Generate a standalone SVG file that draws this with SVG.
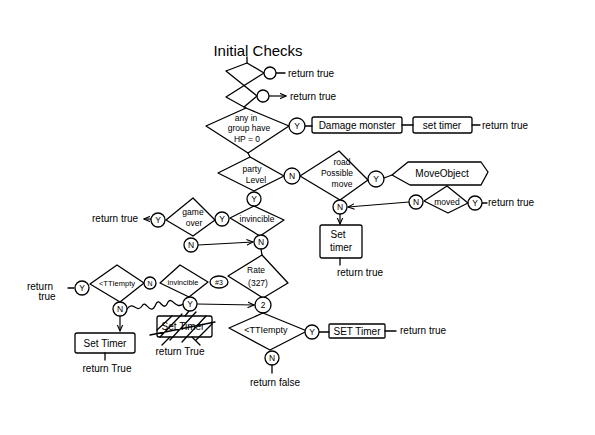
<svg xmlns="http://www.w3.org/2000/svg" width="595" height="435" viewBox="0 0 595 435">
<defs>
<marker id="ah" viewBox="0 0 10 10" refX="9" refY="5" markerWidth="6" markerHeight="6" orient="auto"><path d="M0,1 L9,5 L0,9" fill="none" stroke="#000" stroke-width="1.5"/></marker>
<style>
.s{fill:none;stroke:#000;stroke-width:1.3;stroke-linejoin:round;stroke-linecap:round}
.t{font-family:"Liberation Sans",Arial,sans-serif;font-size:10px;fill:#000}
.m{text-anchor:middle}
.sm{font-size:8.5px}
.c{fill:#fff;stroke:#000;stroke-width:1.3}
.a{fill:none;stroke:#000;stroke-width:1.2;marker-end:url(#ah)}
</style>
</defs>
<rect width="595" height="435" fill="#fff"/>
<text class="t m" x="258" y="56" style="font-size:15px">Initial Checks</text>

<g id="connectors">
<path class="s" d="M247,57 L247,63"/>
<path class="s" d="M276,73 L285,73"/>
<path class="a" d="M269,96 L286,96"/>
<path class="s" d="M244,107 L246,108"/>
<path class="s" d="M305,126 L312,126"/>
<path class="s" d="M402,125 L413,125"/>
<path class="s" d="M472,125 L480,125"/>
<path class="s" d="M248,153 L250,157"/>
<path class="s" d="M384,178 L392,175"/>
<path class="s" d="M482,203 L487,203"/>
<path class="a" d="M409,202 L348,207"/>
<path class="a" d="M340,214 L340,224"/>
<path class="s" d="M340,258 L340,265"/>
<path class="a" d="M151,219 L144,219"/>
<path class="a" d="M198,245 L253,242"/>
<path class="s" d="M261,249 L262,255"/>
<path class="s" d="M68,288 L74,288"/>
<path class="a" d="M120,316 L120,331"/>
<path class="s" d="M105,353 L105,360"/>
<path class="s" d="M127,309 C133,300 137,314 142,306 C146,298 150,318 156,304 C160,296 163,314 168,302 C172,296 176,310 183,304"/>
<path class="a" d="M197,304 L254,305"/>
<path class="s" d="M189,311 L185,316"/>
<path class="s" d="M170,337 L162,345 M192,337 L200,345"/>
<path class="s" d="M319,332 L329,332"/>
<path class="s" d="M385,331 L396,331"/>
<path class="s" d="M272,365 L272,373"/>
</g>

<g id="initial-checks">
<path class="s" d="M226,71 L247,63 L264,73 L226,97 L244,107 L257,96 L226,71"/>
<circle class="c" cx="270" cy="73" r="6"/>
<circle class="c" cx="263" cy="96" r="6"/>
<text class="t" x="288" y="77">return true</text>
<text class="t" x="290" y="100">return true</text>
</g>

<g id="hp-check">
<path class="s" d="M206,126 L246,108 L289,126 L248,153 Z"/>
<text class="t m sm" x="246" y="121">any in</text>
<text class="t m sm" x="249" y="131">group have</text>
<text class="t m sm" x="247" y="142">HP = 0</text>
<circle class="c" cx="297" cy="126" r="8"/>
<text class="t m sm" x="297" y="129">Y</text>
</g>
<g id="damage-monster">
<rect class="s" x="312" y="117" width="90" height="16" rx="2"/>
<text class="t m" x="357" y="129">Damage monster</text>
</g>
<g id="set-timer-1">
<rect class="s" x="413" y="117" width="59" height="16" rx="2"/>
<text class="t m" x="442" y="129">set timer</text>
<text class="t" x="482" y="129">return true</text>
</g>

<g id="party-level">
<path class="s" d="M218,173 L250,157 L284,176 L254,191 Z"/>
<text class="t m sm" x="252" y="172">party</text>
<text class="t m sm" x="256" y="183">Level</text>
<circle class="c" cx="292" cy="176" r="8"/>
<text class="t m sm" x="292" y="179">N</text>
</g>

<g id="road-possible-move">
<path class="s" d="M300,176 L339,151 L368,180 L340,200 Z"/>
<text class="t m sm" x="342" y="165">road</text>
<text class="t m sm" x="337" y="176">Possible</text>
<text class="t m sm" x="342" y="187">move</text>
<circle class="c" cx="376" cy="179" r="8"/>
<text class="t m sm" x="376" y="182">Y</text>
</g>

<g id="move-object">
<path class="s" d="M392,175 L408,162 L481,162 L488,172 L481,185 L410,185 Z"/>
<text class="t m" x="442" y="177">MoveObject</text>
</g>

<g id="moved">
<path class="s" d="M424,201 L447,186 L468,203 L448,213 Z"/>
<text class="t m sm" x="447" y="205">moved</text>
<circle class="c" cx="416" cy="202" r="7"/>
<text class="t m sm" x="416" y="205">N</text>
<circle class="c" cx="475" cy="203" r="7"/>
<text class="t m sm" x="475" y="206">Y</text>
<text class="t" x="488" y="206">return true</text>
</g>

<g id="set-timer-2">
<circle class="c" cx="340" cy="207" r="7"/>
<text class="t m sm" x="340" y="210">N</text>
<rect class="s" x="320" y="225" width="42" height="33" rx="2"/>
<text class="t m" x="338" y="238">Set</text>
<text class="t m" x="341" y="251">timer</text>
<text class="t m" x="360" y="276">return true</text>
</g>

<g id="invincible-1">
<path class="s" d="M230,218 L254,206 L284,220 L260,236 Z"/>
<text class="t m sm" x="257" y="222">invincible</text>
<circle class="c" cx="254" cy="199" r="7"/>
<text class="t m sm" x="254" y="202">Y</text>
<circle class="c" cx="222" cy="219" r="7"/>
<text class="t m sm" x="222" y="222">Y</text>
</g>

<g id="game-over">
<path class="s" d="M166,220 L193,198 L215,220 L193,236 Z"/>
<text class="t m sm" x="193" y="215">game</text>
<text class="t m sm" x="194" y="226">over</text>
<circle class="c" cx="158" cy="220" r="7"/>
<text class="t m sm" x="158" y="223">Y</text>
<text class="t" x="92" y="222">return true</text>
<circle class="c" cx="191" cy="245" r="7"/>
<text class="t m sm" x="191" y="248">N</text>
</g>

<g id="rate">
<circle class="c" cx="261" cy="242" r="7"/>
<text class="t m sm" x="261" y="245">N</text>
<path class="s" d="M228,276 L262,255 L288,283 L263,298 Z"/>
<text class="t m sm" x="256" y="273">Rate</text>
<text class="t m sm" x="258" y="286">(327)</text>
<ellipse class="c" cx="219" cy="282" rx="9" ry="6"/>
<text class="t m" x="219" y="285" style="font-size:7px">#3</text>
</g>

<g id="invincible-2">
<path class="s" d="M160,283 L180,265 L208,282 L189,297 Z"/>
<text class="t m" x="183" y="285" style="font-size:7.5px">invincible</text>
<circle class="c" cx="190" cy="304" r="7"/>
<text class="t m sm" x="190" y="307">Y</text>
</g>

<g id="tti-empty-1">
<path class="s" d="M90,284 L117,265 L144,283 L120,302 Z"/>
<text class="t m" x="117" y="286" style="font-size:7.5px">&lt;TTIempty</text>
<circle class="c" cx="150" cy="283" r="6"/>
<text class="t m" x="150" y="286" style="font-size:7px">N</text>
<circle class="c" cx="82" cy="288" r="7"/>
<text class="t m sm" x="82" y="291">Y</text>
<text class="t m" x="40" y="290">return</text>
<text class="t m" x="47" y="300">true</text>
<circle class="c" cx="120" cy="309" r="7"/>
<text class="t m sm" x="120" y="312">N</text>
</g>

<g id="set-timer-3">
<rect class="s" x="75" y="333" width="60" height="20" rx="2"/>
<text class="t m" x="105" y="347">Set Timer</text>
<text class="t m" x="107" y="372">return True</text>
</g>

<g id="set-timer-crossed">
<rect class="s" x="157" y="316" width="55" height="21" rx="2"/>
<text class="t m" x="183" y="330">Set Timer</text>
<path class="s" d="M157,330 L172,316 M160,337 L182,314 M170,340 L196,312 M182,342 L206,316 M196,340 L212,324 M150,335 L215,322"/>
<text class="t m" x="180" y="355">return True</text>
</g>

<g id="tti-empty-2">
<circle class="c" cx="263" cy="305" r="8"/>
<text class="t m sm" x="263" y="308">2</text>
<path class="s" d="M229,328 L263,313 L307,331 L270,350 Z"/>
<text class="t m" x="266" y="333" style="font-size:9px">&lt;TTIempty</text>
<circle class="c" cx="312" cy="332" r="7"/>
<text class="t m sm" x="312" y="335">Y</text>
<circle class="c" cx="272" cy="358" r="7"/>
<text class="t m sm" x="272" y="361">N</text>
<text class="t m" x="275" y="386">return false</text>
</g>

<g id="set-timer-4">
<rect class="s" x="329" y="324" width="56" height="14" rx="1"/>
<text class="t m" x="357" y="335">SET Timer</text>
<text class="t" x="400" y="334">return true</text>
</g>
</svg>
